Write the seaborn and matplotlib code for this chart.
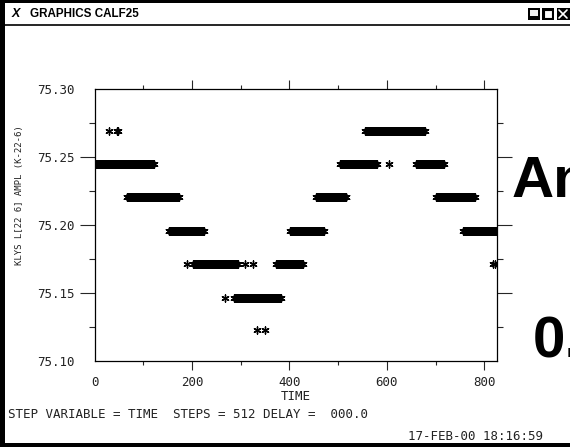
import numpy as np
import pandas as pd
import matplotlib
matplotlib.use("Agg")
import matplotlib.pyplot as plt
from matplotlib.patches import Rectangle
from matplotlib.ticker import MultipleLocator
import seaborn as sns

# Amplitude levels (readback is quantised) and the time runs spent on each
run_level = [75.2694, 75.2450, 75.2450, 75.2450, 75.2206, 75.2206, 75.2206,
             75.1956, 75.1956, 75.1956, 75.1713, 75.1713, 75.1463]
run_start = [555, 0, 504, 660, 66, 454, 701, 152, 401, 756, 203, 372, 286]
run_end = [678, 123, 580, 717, 173, 518, 781, 226, 471, 826, 296, 430, 384]

# Isolated readings outside the runs
single_time = [30, 46, 49, 604, 189, 308, 325, 818, 822, 267, 333, 349]
single_level = [75.2694, 75.2694, 75.2694, 75.2450, 75.1713, 75.1713,
                75.1713, 75.1713, 75.1713, 75.1463, 75.1228, 75.1228]

n_steps = 512
t_span = 826.0
dt = t_span / n_steps

times, values = [], []
for lvl, a, b in zip(run_level, run_start, run_end):
    tt = np.arange(a, b + 1e-9, dt)
    times.extend(tt)
    values.extend([lvl] * len(tt))
times.extend(single_time)
values.extend(single_level)
df = pd.DataFrame({"TIME": times, "AMPL": values})

sns.set_style("ticks")
plt.rcParams["font.family"] = ["DejaVu Sans Mono", "DejaVu Sans"]
plt.rcParams["text.color"] = "black"

W, H = 570, 447
fig = plt.figure(figsize=(W / 100, H / 100), dpi=100)
fig.patch.set_facecolor("white")

# Full-figure layer in pixel coordinates for the window decoration
bg = fig.add_axes([0, 0, 1, 1])
bg.set_xlim(0, W)
bg.set_ylim(H, 0)
bg.axis("off")

bg.add_patch(Rectangle((0, 0), W, 3, color="black", lw=0))
bg.add_patch(Rectangle((0, 0), 5, H, color="black", lw=0))
bg.add_patch(Rectangle((0, H - 4), W, 4, color="black", lw=0))
bg.plot([0, W], [25, 25], color="black", lw=1.2)

bg.text(16, 14, "X", fontsize=9, fontweight="bold", fontstyle="italic",
        family="Liberation Sans", color="black", ha="center", va="center")
bg.text(30, 14, "GRAPHICS CALF25", fontsize=8.4, fontweight="bold",
        family="Liberation Sans", color="black", ha="left", va="center")

# title-bar buttons
bg.add_patch(Rectangle((528, 8), 12, 12, facecolor="black", lw=0))
bg.add_patch(Rectangle((530, 10), 8, 6, facecolor="#f0f0f0", lw=0))
bg.add_patch(Rectangle((542, 8), 12, 12, facecolor="black", lw=0))
bg.add_patch(Rectangle((544, 10), 8, 8, facecolor="white", edgecolor="black", lw=0.8))
bg.add_patch(Rectangle((557, 8), 13, 12, facecolor="black", lw=0))
bg.plot([559, 567], [10, 18], color="white", lw=1.2)
bg.plot([559, 567], [18, 10], color="white", lw=1.2)

# large lettering on the right
bg.text(512, 197, "An", fontsize=42, fontweight="bold", family="Liberation Sans",
        color="black", ha="left", va="baseline")
bg.text(533, 358, "0.", fontsize=42, fontweight="bold", family="Liberation Sans",
        color="black", ha="left", va="baseline")

# Plot panel
left, right, top, bottom = 94.5, 497, 89, 361
ax = fig.add_axes([left / W, 1 - bottom / H, (right - left) / W, (bottom - top) / H])
ax.set_facecolor("white")

sns.scatterplot(data=df, x="TIME", y="AMPL", ax=ax, marker=(6, 2, 0), s=26,
                color="black", edgecolor="black", linewidth=1.0, legend=False)

ax.set_xlim(0, t_span)
ax.set_ylim(75.10, 75.30)
ax.xaxis.set_minor_locator(MultipleLocator(100))
ax.yaxis.set_minor_locator(MultipleLocator(0.025))
ax.set_yticks([75.10, 75.15, 75.20, 75.25, 75.30])
ax.set_yticklabels(["75.10", "75.15", "75.20", "75.25", "75.30"])
ax.set_xticks([0, 200, 400, 600, 800])
ax.set_xticklabels(["0", "200", "400", "600", "800"])

for sp in ax.spines.values():
    sp.set_visible(True)
    sp.set_color("black")
    sp.set_linewidth(0.9)

ax.tick_params(axis="y", which="major", direction="out", length=10.5, width=0.8,
               left=True, right=True, labelleft=True, labelright=False,
               labelsize=9, labelcolor="#222222", pad=4)
ax.tick_params(axis="y", which="minor", direction="out", length=4.5, width=0.8,
               left=True, right=True)
ax.tick_params(axis="x", which="major", direction="out", length=6.5, width=0.8,
               bottom=True, top=True, labelbottom=True, labeltop=False,
               labelsize=9, labelcolor="#222222", pad=4)
ax.tick_params(axis="x", which="minor", direction="out", length=3.2, width=0.8,
               bottom=True, top=True)

# no tick marks at the corners
for tk in (ax.yaxis.get_major_ticks()[0], ax.yaxis.get_major_ticks()[-1],
           ax.xaxis.get_major_ticks()[0]):
    tk.tick1line.set_visible(False)
    tk.tick2line.set_visible(False)

ax.set_xlabel("")
ax.set_ylabel("")

bg.text(296, 397, "TIME", fontsize=9, color="#222222", ha="center", va="center")
bg.text(20, 195, "KLYS L[22 6] AMPL (K-22-6)", fontsize=6.5, color="#222222",
        rotation=90, ha="center", va="center")
bg.text(8, 414, "STEP VARIABLE = TIME  STEPS = 512 DELAY =  000.0", fontsize=9,
        color="#222222", ha="left", va="center")
bg.text(408, 437, "17-FEB-00 18:16:59", fontsize=9, color="#222222",
        ha="left", va="center")

fig.savefig("out.png", dpi=100)
